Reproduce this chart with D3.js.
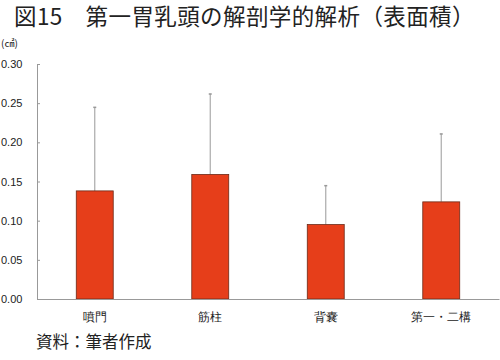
<!DOCTYPE html>
<html>
<head>
<meta charset="utf-8">
<script src="https://cdn.jsdelivr.net/npm/d3@7.9.0/dist/d3.min.js"></script>
<style>
  body { margin: 0; background: #fff; }
  svg { display: block; font-family: "Noto Sans CJK JP", "Noto Sans", sans-serif; }
</style>
</head>
<body>
<div id="chart"></div>
<script>
const categories = ['噴門', '筋柱', '背嚢', '第一・二構'];
const means = [0.138, 0.159, 0.095, 0.124];
const errTops = [0.245, 0.262, 0.145, 0.211];
const yTicks = [0, 0.05, 0.10, 0.15, 0.20, 0.25, 0.30];

const width = 500, height = 360;
const margin = { top: 64, right: 1, bottom: 61, left: 37 };

const svg = d3.select('#chart')
  .append('svg')
  .attr('width', width)
  .attr('height', height);

// Title
svg.append('text')
  .attr('x', 14)
  .attr('y', 25)
  .attr('font-size', 22.5)
  .attr('letter-spacing', 0.4)
  .attr('fill', '#222')
  .text('図15　第一胃乳頭の解剖学的解析（表面積）');

// Unit
svg.append('text')
  .attr('x', 1)
  .attr('y', 47)
  .attr('font-size', 10)
  .attr('fill', '#222')
  .text('(㎠)');

const x = d3.scaleBand()
  .domain(categories)
  .range([margin.left, width - margin.right])
  .paddingInner(0.68)
  .paddingOuter(0.34);

const y = d3.scaleLinear()
  .domain([0, 0.30])
  .range([height - margin.bottom, margin.top]);

// Y axis
const yAxis = svg.append('g')
  .attr('transform', `translate(${margin.left},0)`)
  .call(d3.axisLeft(y).tickValues(yTicks).tickSize(-3).tickPadding(9).tickFormat(d3.format('.2f')));
yAxis.select('.domain').attr('stroke', '#999');
yAxis.selectAll('.tick line').attr('stroke', '#999');
yAxis.selectAll('text')
  .attr('font-size', 11)
  .attr('fill', '#222')
  .attr('text-anchor', 'start')
  .attr('x', -36);

// Error bars
const errs = svg.append('g');
errs.selectAll('line')
  .data(categories)
  .join('line')
  .attr('x1', (d) => x(d) + x.bandwidth() / 2)
  .attr('x2', (d) => x(d) + x.bandwidth() / 2)
  .attr('y1', (d, i) => y(means[i]))
  .attr('y2', (d, i) => y(errTops[i]))
  .attr('stroke', '#aaa')
  .attr('stroke-width', 1.2);
errs.selectAll('rect')
  .data(categories)
  .join('rect')
  .attr('x', (d) => x(d) + x.bandwidth() / 2 - 1.5)
  .attr('y', (d, i) => y(errTops[i]) - 0.5)
  .attr('width', 3)
  .attr('height', 1.5)
  .attr('fill', '#999');

// Bars
svg.append('g')
  .selectAll('rect')
  .data(categories)
  .join('rect')
  .attr('x', (d) => x(d))
  .attr('y', (d, i) => y(means[i]))
  .attr('width', x.bandwidth())
  .attr('height', (d, i) => y(0) - y(means[i]))
  .attr('fill', '#e63e1a')
  .attr('stroke', '#6b2a18')
  .attr('stroke-width', 0.8);

// X axis
const xAxis = svg.append('g')
  .attr('transform', `translate(0,${y(0)})`)
  .call(d3.axisBottom(x).tickSize(0).tickPadding(13));
xAxis.select('.domain').attr('stroke', '#999');
xAxis.selectAll('text')
  .attr('font-size', 12)
  .attr('font-weight', 500)
  .attr('fill', '#222');

// Source
svg.append('text')
  .attr('x', 36)
  .attr('y', 348)
  .attr('font-size', 16.5)
  .attr('fill', '#222')
  .text('資料：筆者作成');
</script>
</body>
</html>
